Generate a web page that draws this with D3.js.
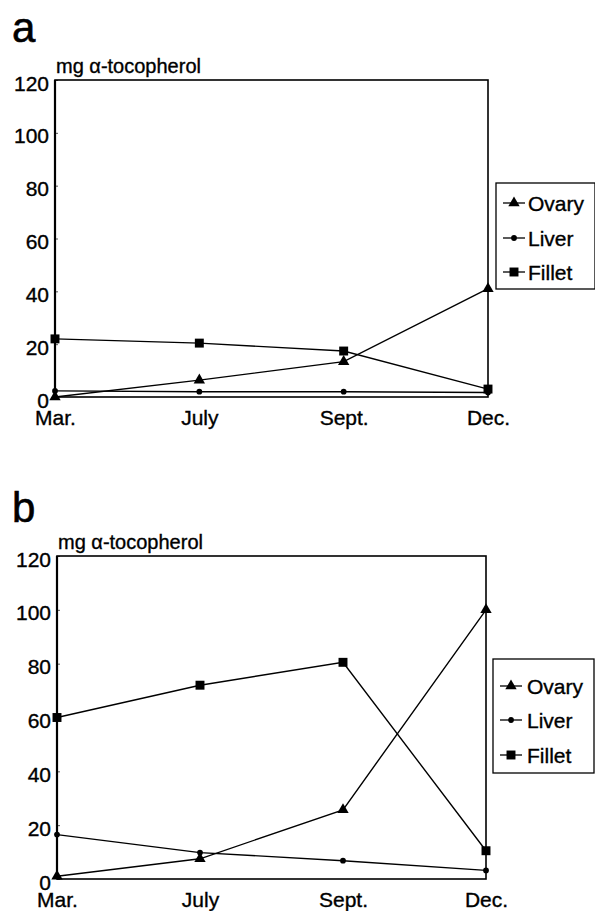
<!DOCTYPE html>
<html>
<head>
<meta charset="utf-8">
<script src="https://cdn.jsdelivr.net/npm/d3@7"></script>
<style>
  body { margin: 0; background: #fff; }
  text { font-family: "Liberation Sans", Arial, Helvetica, sans-serif; fill: #000; stroke: #000; stroke-width: 0.35px; }
</style>
</head>
<body>
<div id="chart"></div>
<script>
const months = ["Mar.", "July", "Sept.", "Dec."];
const seriesNames = ["Ovary", "Liver", "Fillet"];
const yTicks = [0, 20, 40, 60, 80, 100, 120];

// panel a
const ovaryA = [0, 6.4, 13.4, 41];
const liverA = [2.3, 2, 2, 1.7];
const filletA = [22, 20.4, 17.4, 3];

// panel b
const ovaryB = [1, 7.5, 25.7, 100];
const liverB = [16.5, 9.8, 6.8, 3.2];
const filletB = [60, 72, 80.5, 10.5];

const svg = d3.select("#chart")
  .append("svg")
  .attr("width", 595)
  .attr("height", 911);

const symbols = {
  Ovary: d3.symbol().type(d3.symbolTriangle).size(56),
  Liver: d3.symbol().type(d3.symbolCircle).size(26),
  Fillet: d3.symbol().type(d3.symbolSquare).size(80)
};

const panels = [
  { letter: "a", letterY: 42, left: 55, right: 488, top: 80, bottom: 397,
    legend: { x: 496, y: 183, w: 99, h: 106, lineX: 503, textX: 528, rowY: [203, 238, 272] },
    values: [ovaryA, liverA, filletA] },
  { letter: "b", letterY: 522, left: 57, right: 486, top: 556, bottom: 879,
    legend: { x: 493, y: 659, w: 101, h: 114, lineX: 500, textX: 527, rowY: [686, 720, 755] },
    values: [ovaryB, liverB, filletB] }
];

panels.forEach(drawPanel);

function drawPanel(p) {
  const g = svg.append("g");

  const x = d3.scalePoint()
    .domain(months)
    .range([p.left, p.right]);

  const y = d3.scaleLinear()
    .domain([0, 120])
    .range([p.bottom, p.top]);

  g.append("text")
    .attr("x", 12)
    .attr("y", p.letterY)
    .style("font-size", "42px")
    .style("stroke-width", "0.6px")
    .text(p.letter);

  g.append("text")
    .attr("x", p.left + 1)
    .attr("y", p.top - 7)
    .style("font-size", "20px")
    .text("mg α-tocopherol");

  // y axis
  const yAxis = g.append("g")
    .attr("transform", `translate(${p.left},0)`)
    .call(d3.axisLeft(y).tickValues(yTicks).tickSize(-3).tickPadding(6));
  yAxis.select(".domain").remove();
  yAxis.selectAll("line").attr("stroke", "#555");
  yAxis.selectAll("text")
    .attr("dy", "0.48em")
    .style("font-size", "21px")
    .style("font-family", "'Liberation Sans', Arial, sans-serif")
    .attr("fill", "#000");

  // x axis
  const xAxis = g.append("g")
    .attr("transform", `translate(0,${p.bottom})`)
    .call(d3.axisBottom(x).tickSize(0).tickPadding(13));
  xAxis.select(".domain").remove();
  xAxis.selectAll("text")
    .style("font-size", "21px")
    .style("font-family", "'Liberation Sans', Arial, sans-serif")
    .attr("fill", "#000");

  // plot frame
  g.append("rect")
    .attr("x", x(months[0]))
    .attr("y", y(120))
    .attr("width", x(months[3]) - x(months[0]))
    .attr("height", y(0) - y(120))
    .attr("fill", "none")
    .attr("stroke", "#000")
    .attr("stroke-width", 1.6);

  g.append("line")
    .attr("x1", x(months[0]))
    .attr("x2", x(months[0]))
    .attr("y1", y(120))
    .attr("y2", y(0))
    .attr("stroke", "#000")
    .attr("stroke-width", 2.2);

  const line = d3.line()
    .x((d, i) => x(months[i]))
    .y(d => y(d));

  seriesNames.forEach((name, k) => {
    const vals = p.values[k];
    g.append("path")
      .datum(vals)
      .attr("fill", "none")
      .attr("stroke", "#000")
      .attr("stroke-width", 1.4)
      .attr("d", line);

    g.selectAll(".m" + name)
      .data(vals)
      .enter()
      .append("path")
      .attr("transform", (d, i) => `translate(${x(months[i])},${y(d)})`)
      .attr("d", symbols[name]())
      .attr("fill", "#000");
  });

  // legend
  const L = p.legend;
  g.append("rect")
    .attr("x", L.x)
    .attr("y", L.y)
    .attr("width", L.w)
    .attr("height", L.h)
    .attr("fill", "#fff")
    .attr("stroke", "#000")
    .attr("stroke-width", 1.3);

  seriesNames.forEach((name, k) => {
    const ry = L.rowY[k];
    g.append("line")
      .attr("x1", L.lineX)
      .attr("x2", L.lineX + 22)
      .attr("y1", ry)
      .attr("y2", ry)
      .attr("stroke", "#000")
      .attr("stroke-width", 1.3);
    g.append("path")
      .attr("transform", `translate(${L.lineX + 11},${ry})`)
      .attr("d", symbols[name]())
      .attr("fill", "#000");
    g.append("text")
      .attr("x", L.textX)
      .attr("y", ry)
      .attr("dy", "0.36em")
      .style("font-size", "21px")
      .text(name);
  });
}
</script>
</body>
</html>
